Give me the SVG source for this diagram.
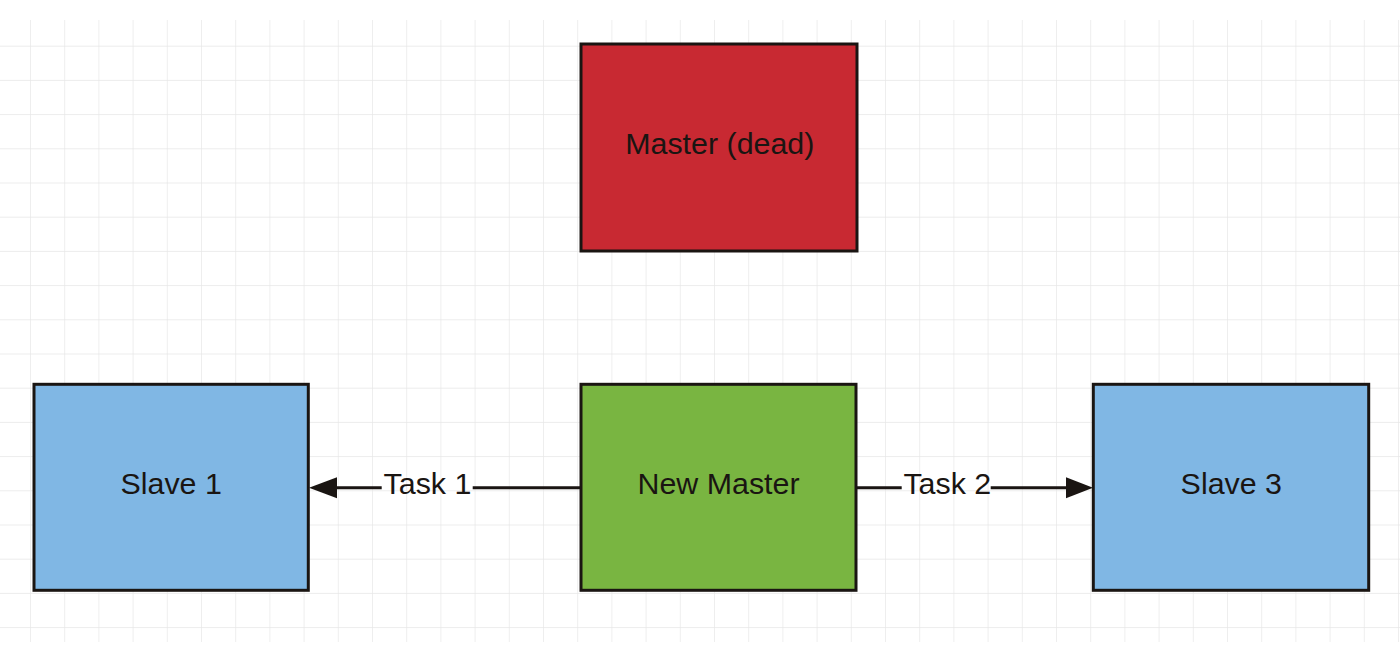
<svg xmlns="http://www.w3.org/2000/svg" width="1400" height="649" viewBox="0 0 1400 649">
  <style>
    .node rect { stroke: #1a1512; stroke-width: 3; }
    .lbl { font-family: "Liberation Sans", Arial, sans-serif; font-size: 30.4px; fill: #1a1512; text-anchor: middle; }
    .edge { stroke: #1a1512; stroke-width: 3; fill: none; }
    .head { fill: #1a1512; }
  </style>
  <defs>
    <pattern id="grid" patternUnits="userSpaceOnUse" x="30" y="11.5" width="34.2" height="34.2">
      <path d="M0 0 H34.2 M0 0 V34.2" stroke="#e6e6e6" stroke-width="1.3" fill="none"/>
    </pattern>
  </defs>
  <rect x="0" y="0" width="1400" height="649" fill="#ffffff"/>
  <rect x="0" y="20" width="1400" height="622" fill="url(#grid)"/>

  <g id="connectors">
    <g id="edge-task1">
      <path class="edge" d="M581 487.7 H472.7 M381.7 487.7 H335"/>
      <polygon class="head" points="309,487.7 337,477.2 337,498.2"/>
      <text class="lbl" x="427.5" y="493.5">Task 1</text>
    </g>
    <g id="edge-task2">
      <path class="edge" d="M856 487.7 H901.7 M990.7 487.7 H1068"/>
      <polygon class="head" points="1093,487.7 1066,477.2 1066,498.2"/>
      <text class="lbl" x="947.3" y="493.5">Task 2</text>
    </g>
  </g>

  <g id="master-dead" class="node">
    <rect x="581" y="44" width="276" height="207" fill="#c82932"/>
    <text class="lbl" x="719.8" y="153.5">Master (dead)</text>
  </g>
  <g id="new-master" class="node">
    <rect x="581" y="384.3" width="275" height="206" fill="#79b541"/>
    <text class="lbl" x="718.5" y="493.5">New Master</text>
  </g>
  <g id="slave1" class="node">
    <rect x="34" y="384.3" width="274.3" height="206" fill="#80b7e4"/>
    <text class="lbl" x="171.2" y="494">Slave 1</text>
  </g>
  <g id="slave3" class="node">
    <rect x="1093.3" y="384.3" width="275.4" height="206" fill="#80b7e4"/>
    <text class="lbl" x="1231.3" y="494">Slave 3</text>
  </g>
</svg>
